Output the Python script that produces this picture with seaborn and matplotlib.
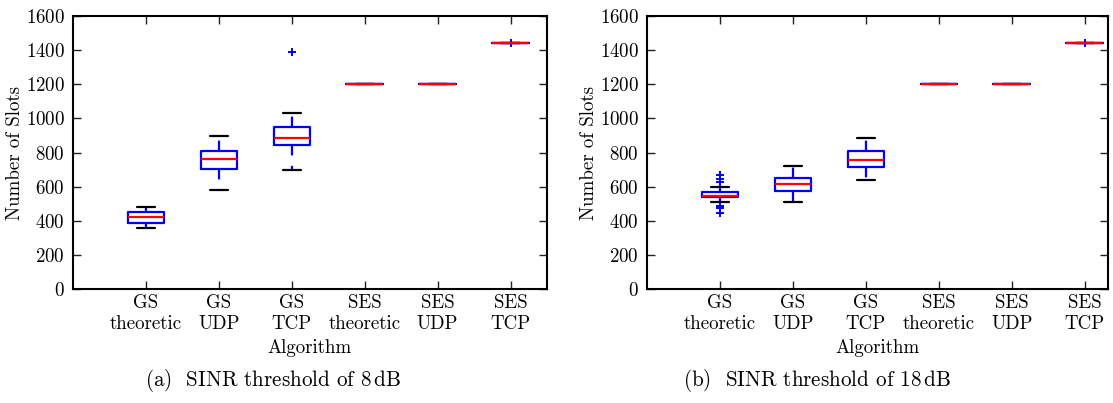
import numpy as np
import pandas as pd
import matplotlib
matplotlib.use("Agg")
import matplotlib.pyplot as plt
import seaborn as sns

# Categories on the x axis
algorithms = ["GS\ntheoretic", "GS\nUDP", "GS\nTCP",
              "SES\ntheoretic", "SES\nUDP", "SES\nTCP"]

# Number of slots per run, SINR threshold 8 dB
slots_8db_gs_theoretic = [359, 389, 420, 451, 482]
slots_8db_gs_udp = [580, 705, 764, 811, 897]
slots_8db_gs_tcp = [695, 800, 842, 865, 885, 915, 948, 1033, 1387]
slots_8db_ses_theoretic = [1200, 1200, 1200, 1200, 1200]
slots_8db_ses_udp = [1200, 1200, 1200, 1200, 1200]
slots_8db_ses_tcp = [1440, 1440, 1440, 1440, 1443]

# Number of slots per run, SINR threshold 18 dB
slots_18db_gs_theoretic = [447, 472, 487, 510, 541, 541, 542, 542, 543,
                           550, 558, 565, 570, 600, 625, 647, 670]
slots_18db_gs_udp = [512, 574, 613, 649, 722]
slots_18db_gs_tcp = [637, 713, 756, 806, 887]
slots_18db_ses_theoretic = [1200, 1200, 1200, 1200, 1200]
slots_18db_ses_udp = [1200, 1200, 1200, 1200, 1200]
slots_18db_ses_tcp = [1440, 1440, 1440, 1440, 1443]

captions = [r"(a)  SINR threshold of 8$\,$dB", r"(b)  SINR threshold of 18$\,$dB"]


def long_table(series):
    rows = []
    for name, values in zip(algorithms, series):
        for v in values:
            rows.append({"Algorithm": name, "Number of Slots": v})
    return pd.DataFrame(rows)


df_8 = long_table([slots_8db_gs_theoretic, slots_8db_gs_udp, slots_8db_gs_tcp,
                   slots_8db_ses_theoretic, slots_8db_ses_udp, slots_8db_ses_tcp])
df_18 = long_table([slots_18db_gs_theoretic, slots_18db_gs_udp, slots_18db_gs_tcp,
                    slots_18db_ses_theoretic, slots_18db_ses_udp, slots_18db_ses_tcp])

sns.set_style("ticks")
plt.rcParams.update({
    "font.family": "cmr10",
    "mathtext.fontset": "cm",
    "axes.formatter.use_mathtext": True,
    "lines.scale_dashes": False,
    "xtick.direction": "in",
    "ytick.direction": "in",
    "xtick.top": True,
    "ytick.right": True,
    "axes.edgecolor": "black",
    "axes.linewidth": 1.5,
    "xtick.color": "#222222",
    "ytick.color": "#222222",
    "xtick.labelcolor": "black",
    "ytick.labelcolor": "black",
    "text.color": "black",
    "axes.labelcolor": "black",
})

fig = plt.figure(figsize=(11.13, 4.03), dpi=100)
ax_a = fig.add_axes([73 / 1113, 1 - 289 / 403, 474 / 1113, 273 / 403])
ax_b = fig.add_axes([647 / 1113, 1 - 289 / 403, 461 / 1113, 273 / 403])

for ax, df, xmax in [(ax_a, df_8, 5.5), (ax_b, df_18, 5.32)]:
    sns.boxplot(
        data=df, x="Algorithm", y="Number of Slots", order=algorithms, ax=ax,
        width=0.5, fill=False, color="blue", linewidth=1.6, whis=1.5,
        fliersize=6,
        boxprops=dict(color="blue"),
        whiskerprops=dict(color="blue", linestyle=(0, (7.5, 7.5))),
        capprops=dict(color="black"),
        medianprops=dict(color="red"),
        flierprops=dict(marker="+", markeredgecolor="blue",
                        markerfacecolor="blue", markeredgewidth=1.4),
    )
    ax.set_xlim(-1, xmax)
    ax.set_ylim(0, 1600)
    ax.set_yticks(np.arange(0, 1601, 200))
    ax.tick_params(axis="both", labelsize=13.6, length=6, width=1)
    ax.tick_params(axis="x", pad=4)
    ax.tick_params(axis="y", pad=6)
    ax.set_xlabel("Algorithm", fontsize=13.6, labelpad=4)
    ax.set_ylabel("Number of Slots", fontsize=13.6, labelpad=1)
    for side in ["top", "right", "left", "bottom"]:
        ax.spines[side].set_visible(True)

fig.text(273 / 1113, 1 - 381 / 403, captions[0], ha="center", va="center",
         fontsize=15.2)
fig.text(817 / 1113, 1 - 381 / 403, captions[1], ha="center", va="center",
         fontsize=15.2)

fig.savefig("out.png", dpi=100)
